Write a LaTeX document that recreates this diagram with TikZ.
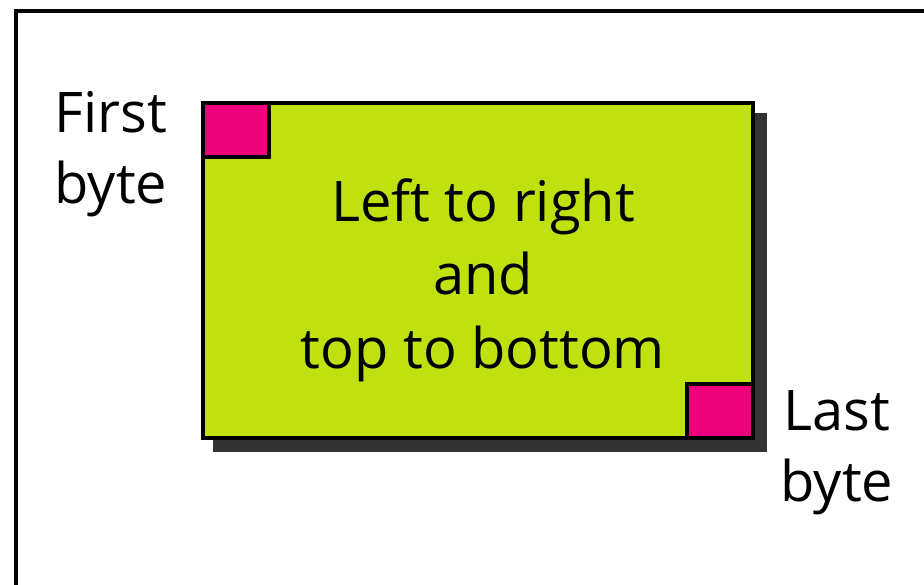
\documentclass[tikz,border=0pt]{standalone}
\usepackage{fontspec}
\setmainfont{Open Sans}
\usepackage{xcolor}
\usepackage{tikz}
\usetikzlibrary{positioning,calc}
\definecolor{bodyGreen}{RGB}{192, 225, 15}
\definecolor{bytePink}{RGB}{238, 0, 125}
\definecolor{shadowGray}{RGB}{51, 51, 51}

\begin{document}
\begin{tikzpicture}[x=0.75pt, y=-0.75pt,
    lbl/.style={align=center, font=\fontsize{42}{55}\selectfont, inner sep=0pt},
    sidelbl/.style={lbl, font=\fontsize{42}{53}\selectfont},
    bytebox/.style={draw=black, line width=3pt, fill=bytePink, outer sep=0pt,
        minimum width=49.5pt, minimum height=40.5pt, inner sep=0pt}]
    \useasboundingbox (0,0) rectangle (924,585);
    % frame (only top and left edges are visible)
    \draw[line width=3pt] (16,585) -- (16,11) -- (924,11);
    % shadow, then the box itself
    \node[fill=shadowGray, minimum width=415.5pt, minimum height=254.25pt, inner sep=0pt] (shadow) at (490,282.5) {};
    \node[draw=black, line width=3pt, fill=bodyGreen, outer sep=0pt, inner sep=0pt,
          minimum width=412.5pt, minimum height=251.25pt] (msg) at (478,270.5) {};
    \node[bytebox, anchor=north west] (first) at (msg.north west) {};
    \node[bytebox, anchor=south east] (last) at (msg.south east) {};
    % labels
    \node[lbl] (order) at (483,280) {Left to right\\and\\top to bottom};
    \node[sidelbl] (firstlbl) at (111,154) {First\\byte};
    \node[sidelbl] (lastlbl) at (837,453) {Last\\byte};
\end{tikzpicture}
\end{document}
